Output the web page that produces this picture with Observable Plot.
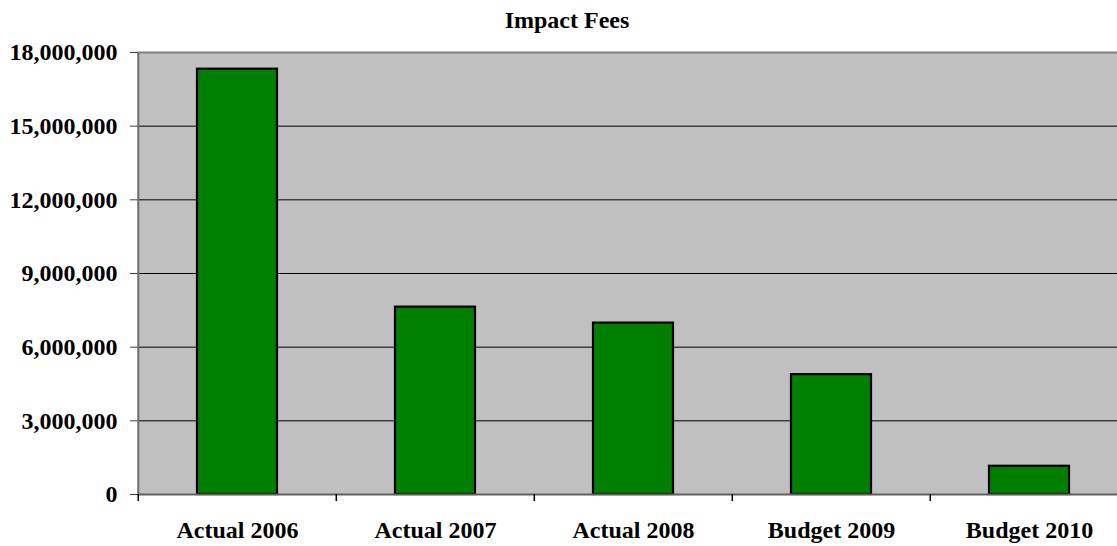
<!DOCTYPE html>
<html>
<head>
<meta charset="utf-8">
<script src="https://cdn.jsdelivr.net/npm/d3@7"></script>
<script src="https://cdn.jsdelivr.net/npm/@observablehq/plot@0.6"></script>
<style>
  html, body { margin: 0; padding: 0; background: #fff; overflow: hidden; }
  #title { position: absolute; left: 0; top: 0; width: 1134px; height: 40px;
           font: bold 24px "Liberation Serif", "Times New Roman", serif; line-height: 40px;
           text-align: center; color: #000; }
  #chart { position: absolute; left: 0; top: 40px; width: 1129px; }
  #chart svg { max-width: none !important; }
  #chart svg text { fill: #000; }
</style>
</head>
<body>
<div id="title">Impact Fees</div>
<div id="chart"></div>
<script>
const categories = ["Actual 2006", "Actual 2007", "Actual 2008", "Budget 2009", "Budget 2010"];
const values = [17320000, 7630000, 6980000, 4880000, 1150000];
const yTicks = [0, 3000000, 6000000, 9000000, 12000000, 15000000, 18000000];

const data = categories.map((c, i) => ({category: c, value: values[i]}));
const step = (1129 - 137) / categories.length;

const chart = Plot.plot({
  width: 1129,
  height: 506,
  marginLeft: 137,
  marginRight: 0,
  marginTop: 12,
  marginBottom: 52,
  style: {fontFamily: '"Liberation Serif", "Times New Roman", serif', fontSize: "24px", fontWeight: "bold", background: "transparent", maxWidth: "none"},
  x: {domain: categories, paddingInner: 0.595, paddingOuter: 0.2975, label: null},
  y: {domain: [0, 18000000], label: null},
  marks: [
    Plot.frame({fill: "#c0c0c0", stroke: "none"}),
    Plot.ruleY(yTicks.filter(t => t > 0 && t < 18000000), {stroke: "#000", strokeWidth: 1}),
    Plot.barY(data, {x: "category", y: "value", fill: "#007f00", stroke: "#000", strokeWidth: 2.2}),
    Plot.ruleY([18000000], {stroke: "#808080", strokeWidth: 2}),
    Plot.ruleY([0], {stroke: "#606060", strokeWidth: 2}),
    Plot.ruleX(categories, {x: d => d, dx: -step / 2, y1: 0, y2: 0, insetBottom: -7, stroke: "#000", strokeWidth: 1.5}),
    Plot.axisY({ticks: yTicks, tickFormat: d3.format(","), tickSize: 7, tickPadding: 13, stroke: "#404040", fontSize: 24, fontWeight: "bold", label: null}),
    Plot.axisX({tickSize: 0, tickPadding: 26, fontSize: 24, fontWeight: "bold", label: null}),
    Plot.ruleX([categories[0]], {dx: -step / 2, y1: 0, y2: 18000000, stroke: "#707070", strokeWidth: 2})
  ]
});
document.getElementById("chart").appendChild(chart);
</script>
</body>
</html>
